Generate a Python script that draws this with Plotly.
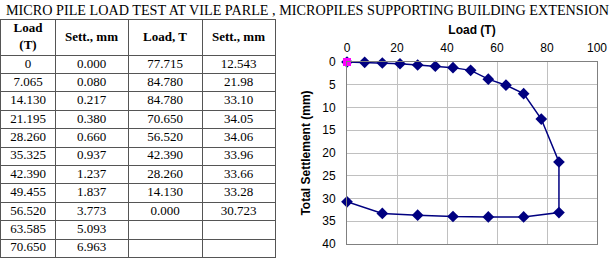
import plotly.graph_objects as go

title_text = "MICRO PILE LOAD TEST AT VILE PARLE , MICROPILES SUPPORTING BUILDING EXTENSION"

load_up = ["0", "7.065", "14.130", "21.195", "28.260", "35.325", "42.390", "49.455", "56.520", "63.585", "70.650"]
sett_up = ["0.000", "0.080", "0.217", "0.380", "0.660", "0.937", "1.237", "1.837", "3.773", "5.093", "6.963"]
load_2 = ["77.715", "84.780", "84.780", "70.650", "56.520", "42.390", "28.260", "14.130", "0.000", "", ""]
sett_2 = ["12.543", "21.98", "33.10", "34.05", "34.06", "33.96", "33.66", "33.28", "30.723", "", ""]
headers = ["Load<br>(T)", "Sett., mm", "Load, T", "Sett., mm"]

curve_load = [0, 7.065, 14.130, 21.195, 28.260, 35.325, 42.390, 49.455, 56.520, 63.585, 70.650,
              77.715, 84.780, 84.780, 70.650, 56.520, 42.390, 28.260, 14.130, 0.000]
curve_sett = [0.000, 0.080, 0.217, 0.380, 0.660, 0.937, 1.237, 1.837, 3.773, 5.093, 6.963,
              12.543, 21.98, 33.10, 34.05, 34.06, 33.96, 33.66, 33.28, 30.723]
start_load = [0]
start_sett = [0]

W, H = 610, 259
SERIF = "Liberation Serif, Times New Roman, serif"
SANS = "Liberation Sans, Arial, sans-serif"

# table layout (pixel-like units on a hidden pair of axes)
col_edges = [1, 55, 128, 202, 275]
n_rows = len(load_up)
header_h = 35 / 18.36  # header height in row units
columns = [load_up, sett_up, load_2, sett_2]
col_centers = [(col_edges[i] + col_edges[i + 1]) / 2 for i in range(len(columns))]

fig = go.Figure()

# table body text
tx, ty, tt = [], [], []
for ci, col in enumerate(columns):
    for ri, v in enumerate(col):
        tx.append(col_centers[ci])
        ty.append(ri + 0.5)
        tt.append(v)
fig.add_trace(go.Scatter(
    x=tx, y=ty, text=tt, mode="text", textposition="middle center",
    textfont=dict(family=SERIF, size=13, color="black"),
    hoverinfo="skip", showlegend=False, xaxis="x2", yaxis="y2"))

# table header text
fig.add_trace(go.Scatter(
    x=col_centers, y=[-header_h / 2] * len(headers),
    text=[f"<b>{h}</b>" for h in headers], mode="text", textposition="middle center",
    textfont=dict(family=SERIF, size=13, color="black"),
    hoverinfo="skip", showlegend=False, xaxis="x2", yaxis="y2"))

fig.add_trace(go.Scatter(
    x=curve_load, y=curve_sett, mode="lines+markers",
    line=dict(color="#000080", width=1.5),
    marker=dict(symbol="diamond", size=9, color="#000080"),
    cliponaxis=False, showlegend=False, xaxis="x", yaxis="y"))

fig.add_trace(go.Scatter(
    x=start_load, y=start_sett, mode="markers",
    marker=dict(symbol="square", size=8, color="#ff00ff"),
    cliponaxis=False, showlegend=False, xaxis="x", yaxis="y"))

TABLE_LINE = "#555555"

fig.update_layout(
    width=W, height=H,
    margin=dict(l=0, r=0, t=0, b=0),
    paper_bgcolor="white", plot_bgcolor="white",
    font=dict(family=SANS, size=12, color="black"),
    xaxis=dict(domain=[347 / W, 597 / W], range=[0, 100], dtick=20, side="top",
               showgrid=True, gridcolor="#c0c0c0", gridwidth=1,
               showline=True, linecolor="#808080", linewidth=1, mirror=True,
               zeroline=False, ticks="", ticklabelstandoff=4, automargin=False,
               title=dict(text="<b>Load (T)</b>", font=dict(size=12), standoff=4),
               anchor="y"),
    yaxis=dict(domain=[1 - 244 / H, 1 - 62 / H], range=[40, 0], dtick=5,
               showgrid=True, gridcolor="#c0c0c0", gridwidth=1,
               showline=True, linecolor="#808080", linewidth=1, mirror=True,
               zeroline=False, ticks="", ticklabelstandoff=8, automargin=False,
               title=dict(text="<b>Total Settlement (mm)</b>", font=dict(size=12), standoff=9),
               anchor="x"),
    xaxis2=dict(domain=[col_edges[0] / W, col_edges[-1] / W], range=[col_edges[0], col_edges[-1]],
                tickvals=col_edges[1:-1], showticklabels=False, ticks="",
                showgrid=True, gridcolor=TABLE_LINE, gridwidth=1,
                showline=True, linecolor=TABLE_LINE, linewidth=1, mirror=True,
                zeroline=False, automargin=False, fixedrange=True, anchor="y2"),
    yaxis2=dict(domain=[1 - 257.4 / H, 1 - 20 / H], range=[n_rows, -header_h],
                tickvals=list(range(n_rows)), showticklabels=False, ticks="",
                showgrid=True, gridcolor=TABLE_LINE, gridwidth=1,
                showline=True, linecolor=TABLE_LINE, linewidth=1, mirror=True,
                zeroline=False, automargin=False, fixedrange=True, anchor="x2"),
    annotations=[
        dict(text=title_text, x=307 / W, y=1 - 10 / H, xref="paper", yref="paper",
             showarrow=False, xanchor="center", yanchor="middle",
             font=dict(family=SERIF, size=14.2, color="black")),
    ],
)

fig.write_html("out.html", post_script="document.body.style.margin='0px';",
               config={"displayModeBar": False})
